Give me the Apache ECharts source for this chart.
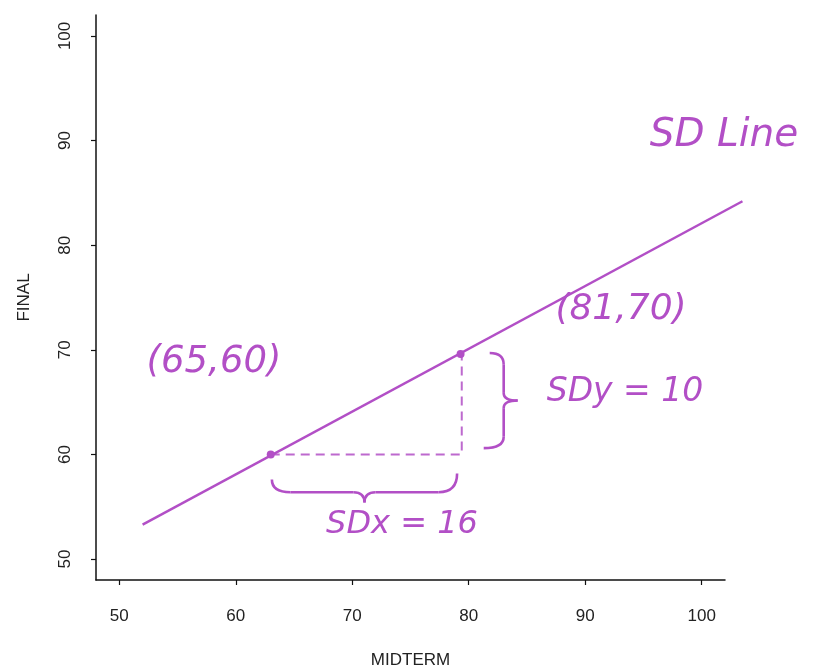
<!DOCTYPE html>
<html><head><meta charset="utf-8">
<script src="https://cdn.jsdelivr.net/npm/echarts@6/dist/echarts.min.js"></script>
<style>html,body{margin:0;padding:0;background:#fff}#c{width:822px;height:669px}</style>
</head><body><div id="c"></div>
<script>
// ---- data ----
const xTicks = [50, 60, 70, 80, 90, 100];
const yTicks = [50, 60, 70, 80, 90, 100];
const sdLine = [[52, 53.3], [103.5, 84.2]];
const sdPoints = [[63, 60], [79.3, 69.6]];
const dashPath = [[63, 60], [79.4, 60], [79.4, 69.5]];
const hBrace = [63.1, 79.0, 57.6, 55.4];   // x1, x2, yTop, yBottom
const vBrace = [69.7, 60.6, 81.8, 84.2];   // yTop, yBottom, xLeft, xRight
const notes = [
  {text: 'SD Line', x: 724, y: 136, size: 39},
  {text: '(81,70)', x: 621, y: 310, size: 36},
  {text: '(65,60)', x: 214, y: 362, size: 37},
  {text: 'SDy = 10', x: 625, y: 392, size: 33},
  {text: 'SDx = 16', x: 402, y: 525, size: 32}
];
const purple = '#b24fc6';
const axisFont = '"Liberation Sans", Arial, sans-serif';

const chart = echarts.init(document.getElementById('c'));
const axisCommon = {
  type: 'value', min: 48, max: 102,
  splitLine: {show: false},
  axisLine: {show: true, onZero: false, lineStyle: {color: '#111', width: 1.5}},
  axisTick: {show: true, length: 5, lineStyle: {color: '#111', width: 1.2}},
  nameLocation: 'middle',
  nameTextStyle: {fontFamily: axisFont, fontSize: 17, color: '#222'}
};
chart.setOption({
  animation: false,
  grid: {left: 96, right: 97, top: 15, bottom: 89, outerBoundsMode: 'none', containLabel: false},
  xAxis: Object.assign({}, axisCommon, {
    name: 'MIDTERM', nameGap: 72,
    axisTick: Object.assign({}, axisCommon.axisTick, {customValues: xTicks}),
    axisLabel: {customValues: xTicks, margin: 28, fontFamily: axisFont, fontSize: 17, color: '#222'}
  }),
  yAxis: Object.assign({}, axisCommon, {
    name: 'FINAL', nameGap: 63, nameRotate: 90,
    axisTick: Object.assign({}, axisCommon.axisTick, {customValues: yTicks}),
    axisLabel: {customValues: yTicks, rotate: 90, margin: 22, fontFamily: axisFont, fontSize: 17, color: '#222'}
  }),
  series: [
    {type: 'custom', clip: false, data: [0],
      renderItem: function (params, api) {
        const st = {stroke: purple, lineWidth: 2.5, fill: null};
        const dst = {stroke: purple, lineWidth: 2, fill: null, lineDash: [9, 6], opacity: 0.85};
        const pts = sdLine.map(p => api.coord(p));
        const dpts = dashPath.map(p => api.coord(p));
        const dots = sdPoints.map(p => {
          const c = api.coord(p);
          return {type: 'circle', shape: {cx: c[0], cy: c[1], r: 4}, style: {fill: purple}};
        });
        return {type: 'group', children: [
          {type: 'polyline', shape: {points: pts}, style: st},
          {type: 'polyline', shape: {points: dpts}, style: dst}
        ].concat(dots)};
      }
    },
    {type: 'custom', clip: false, data: [0],
      renderItem: function (params, api) {
        const a = api.coord([hBrace[0], hBrace[2]]);
        const b = api.coord([hBrace[1], hBrace[3]]);
        const x1 = a[0], x2 = b[0], yT = a[1], yB = b[1];
        const xm = (x1 + x2) / 2, yM = yT + (yB - yT) * 0.55, w = x2 - x1;
        const c = api.coord([vBrace[2], vBrace[0]]);
        const d = api.coord([vBrace[3], vBrace[1]]);
        const xL = c[0], xR = d[0], vT = c[1], vB = d[1];
        const ym = (vT + vB) / 2, xM = xL + (xR - xL) * 0.5, h = vB - vT;
        const st = {stroke: purple, lineWidth: 2.6, fill: null};
        const q = (p1, cp, p2) => ({type: 'bezierCurve', shape: {x1: p1[0], y1: p1[1], cpx1: cp[0], cpy1: cp[1], x2: p2[0], y2: p2[1]}, style: st});
        const l = (p1, p2) => ({type: 'line', shape: {x1: p1[0], y1: p1[1], x2: p2[0], y2: p2[1]}, style: st});
        return {type: 'group', children: [
          q([x1, yT], [x1, yM], [x1 + w * 0.1, yM]),
          l([x1 + w * 0.1, yM], [xm - w * 0.06, yM]),
          q([xm - w * 0.06, yM], [xm, yM], [xm, yB]),
          q([xm, yB], [xm, yM], [xm + w * 0.06, yM]),
          l([xm + w * 0.06, yM], [x2 - w * 0.1, yM]),
          q([x2 - w * 0.1, yM], [x2, yM], [x2, yT - 6]),
          q([xL, vT], [xM, vT], [xM, vT + h * 0.12]),
          l([xM, vT + h * 0.12], [xM, ym - h * 0.08]),
          q([xM, ym - h * 0.08], [xM, ym], [xR, ym]),
          q([xR, ym], [xM, ym], [xM, ym + h * 0.08]),
          l([xM, ym + h * 0.08], [xM, vB - h * 0.12]),
          q([xM, vB - h * 0.12], [xM, vB], [xL - 6, vB])
        ]};
      }
    }
  ],
  graphic: notes.map(n => ({
    type: 'text', x: n.x, y: n.y,
    style: {text: n.text, fill: purple, font: 'italic ' + n.size + 'px "DejaVu Sans"', align: 'center', verticalAlign: 'middle'}
  }))
});
</script></body></html>
